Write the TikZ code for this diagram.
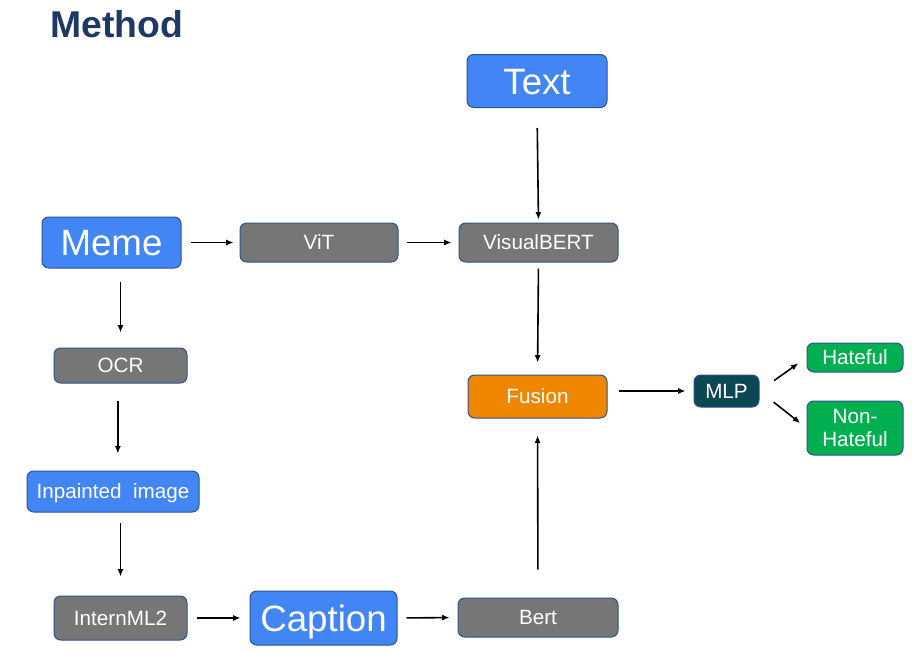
\documentclass[tikz,border=0pt]{standalone}
\usepackage{fontspec}
\setmainfont{Liberation Sans}
\definecolor{titlenavy}{RGB}{31, 56, 100}
\definecolor{edgenavy}{RGB}{47, 82, 143}
\definecolor{boxblue}{RGB}{66, 133, 244}
\definecolor{boxgrey}{RGB}{118, 118, 118}
\definecolor{fuseorange}{RGB}{238, 134, 0}
\definecolor{mlpteal}{RGB}{12, 71, 84}
\definecolor{outgreen}{RGB}{0, 176, 80}
\usetikzlibrary{arrows.meta, positioning, calc}

\begin{document}
\begin{tikzpicture}[x=0.75pt, y=-0.75pt,
  box/.style={draw=edgenavy, line width=0.75pt, rounded corners=5pt, text=white,
    inner sep=0pt, align=center, text height=11.2pt, text depth=0pt,
    font=\fontsize{15.5}{17}\selectfont},
  bluebox/.style={box, fill=boxblue},
  greybox/.style={box, fill=boxgrey},
  bigtext/.style={font=\fontsize{27.5}{30}\selectfont, text height=19.8pt},
  flow/.style={-{Latex[length=5.5pt, width=4.5pt]}, black, line width=1.2pt}]
  \useasboundingbox (0, 0) rectangle (921, 654);

  % Title
  \node[anchor=base west, inner sep=0pt, text=titlenavy,
    font=\fontsize{28}{30}\selectfont\bfseries] (title) at (50, 37) {Method};

  % Inputs
  \node[bluebox, bigtext, minimum width=105pt, minimum height=39.75pt] (text) at (537, 81) {Text};
  \node[bluebox, bigtext, minimum width=104.25pt, minimum height=38.25pt] (meme) at (111.5, 242.5) {Meme};

  % Image branch
  \node[greybox, minimum width=118.5pt, minimum height=29.25pt] (vit) at (319, 242.5) {ViT};
  \node[greybox, minimum width=119.25pt, minimum height=29.25pt] (vbert) at (538.5, 242.5) {VisualBERT};

  % Caption branch
  \node[greybox, minimum width=99.75pt, minimum height=26.25pt] (ocr) at (120.5, 365.5) {OCR};
  \node[bluebox, minimum width=129pt, minimum height=30.75pt] (inpaint) at (113, 491.5) {Inpainted\ \ image};
  \node[greybox, minimum width=99.75pt, minimum height=33pt] (internml) at (120.5, 618) {InternML2};
  \node[bluebox, bigtext, minimum width=110.25pt, minimum height=40.5pt] (caption) at (323.5, 618) {Caption};
  \node[greybox, minimum width=120pt, minimum height=29.25pt] (bert) at (538, 617.5) {Bert};

  % Fusion and classifier
  \node[box, fill=fuseorange, minimum width=104.25pt, minimum height=32.25pt] (fusion) at (537.5, 396.5) {Fusion};
  \node[box, fill=mlpteal, minimum width=48.75pt, minimum height=24pt] (mlp) at (726.5, 391) {MLP};
  \node[box, fill=outgreen, minimum width=72pt, minimum height=21.75pt] (hateful) at (855, 357.5) {Hateful};
  \node[box, fill=outgreen, text height=, text depth=, minimum width=72pt, minimum height=40.5pt] (nonhateful) at (855, 428) {Non-\\Hateful};

  % Arrows
  \draw[flow, shorten <=15pt, shorten >=2.25pt] (text.south) -- (vbert.north);
  \draw[flow, shorten <=6.75pt, shorten >=4.5pt] (meme.east) -- (vit.west);
  \draw[flow, shorten <=6pt, shorten >=5.25pt] (vit.east) -- (vbert.west);
  \draw[flow, shorten <=4.5pt, shorten >=9pt] (vbert.south) -- (fusion.north);
  \draw[flow, shorten <=9.75pt, shorten >=11.25pt] (meme.south -| ocr.north) -- (ocr.north);
  \draw[flow, shorten <=12.75pt, shorten >=12.75pt] ([xshift=-2pt]ocr.south) -- ([xshift=-2pt]ocr.south |- inpaint.north);
  \draw[flow, shorten <=7.5pt, shorten >=14.25pt] (internml.north |- inpaint.south) -- (internml.north);
  \draw[flow, shorten <=6.75pt, shorten >=6.75pt] (internml.east) -- (caption.west);
  \draw[flow, shorten <=6.75pt, shorten >=6pt] (caption.east) -- (bert.west);
  \draw[flow, shorten <=21pt, shorten >=12.75pt] (bert.north) -- (fusion.south);
  \draw[flow, shorten <=8.25pt, shorten >=6pt] (fusion.east |- mlp.west) -- (mlp.west);
  \draw[flow, shorten <=13.5pt, shorten >=7.5pt] (mlp.east) -- (hateful.west);
  \draw[flow, shorten <=13.5pt, shorten >=6pt] (mlp.east) -- (nonhateful.west);
\end{tikzpicture}
\end{document}
